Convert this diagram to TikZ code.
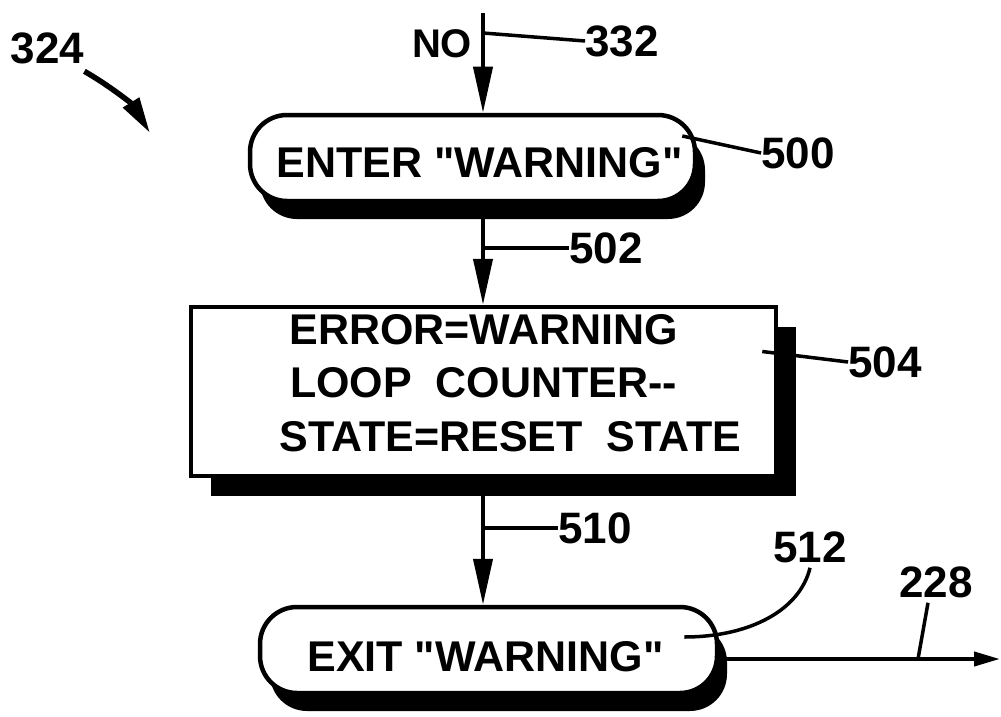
\documentclass[tikz,border=0pt]{standalone}
\usepackage{fontspec}
\setmainfont{Liberation Sans}[Ligatures=TeXOff]
\usetikzlibrary{arrows.meta,shadows}
\newcommand{\qq}{\char34\relax}
\begin{document}
\begin{tikzpicture}[x=1pt,y=-1pt,
  every node/.style={inner sep=0pt,font=\bfseries\fontsize{44}{53.5}\selectfont},
  boxfont/.style={font=\bfseries\fontsize{43}{53.5}\selectfont},
  term/.style={draw,line width=4.5pt,fill=white,rounded corners=37pt,minimum height=86pt,boxfont,
     drop shadow={shadow xshift=10pt,shadow yshift=-18pt,fill=black,opacity=1}},
  procbox/.style={draw,line width=4.5pt,fill=white,minimum width=585pt,minimum height=169pt,align=center,boxfont,
     drop shadow={shadow xshift=20pt,shadow yshift=-20pt,fill=black,opacity=1}},
  flow/.style={line width=4pt,-{Triangle[length=46pt,width=19pt]}},
  outflow/.style={line width=4pt,-{Triangle[length=26pt,width=14pt]}},
  leader/.style={line width=3.5pt}]
\useasboundingbox (0,0) rectangle (1001,717);

% process nodes
\node[term,minimum width=445pt] (enter) at (472.5,158) {\hspace*{14pt}\rule{0pt}{39pt}ENTER \qq WARNING\qq};
\node[procbox] (rect) at (483.5,391.5)
  {ERROR=WARNING\\LOOP\ \ COUNTER-{}-\\\hspace*{54pt}STATE=RESET\ \ STATE\rule[-18pt]{0pt}{18pt}};
\node[term,minimum width=457pt] (exit) at (488.5,650) {\rule{0pt}{44pt}EXIT \qq WARNING\qq\hspace*{6pt}};

% labels
\node (l324) at (47.5,48.5) {324};
\node[font=\bfseries\fontsize{40}{48}\selectfont] (lno) at (442,44) {NO};
\node (l332) at (622,41) {332};
\node (l500) at (798,153) {500};
\node (l502) at (606,248) {502};
\node (l504) at (885,362) {504};
\node (l510) at (595,528) {510};
\node (l512) at (810,547) {512};
\node (l228) at (936,582) {228};

% coordinates
\coordinate (top) at (483,13);
\coordinate (p324) at (150,133);
\coordinate (outend) at (1000,659);
\coordinate (c228) at (918,659);

% flow connectors
\draw[flow] (top) -- (enter.north -| top);
\draw[flow] (enter.south -| top) -- (rect.north -| top);
\draw[flow] (rect.south -| top) -- (exit.north -| top);
\draw[outflow] ([yshift=-9pt]exit.east) -- (outend);
\draw[line width=5.5pt,-{Triangle[length=36pt,width=18pt]}]
  ([shift={(0,7)}]l324.south east) .. controls (110,86) and (132,104) .. (p324);

% leaders
\draw[leader] ([shift={(0,20)}]top) -- (l332.west);
\draw[leader] ([shift={(-15,-22)}]enter.east) -- (l500.west);
\draw[leader] (l502.west -| top) -- (l502.west);
\draw[leader] ([shift={(-16,-40)}]rect.east) -- (l504.west);
\draw[leader] (l510.west -| top) -- (l510.west);
\draw[leader] ([shift={(-35,-13)}]exit.east) .. controls (750,637) and (800,610) .. ([yshift=-5pt]l512.south);
\draw[leader] ([shift={(-8,5)}]l228.south) -- (c228);
\end{tikzpicture}
\end{document}
